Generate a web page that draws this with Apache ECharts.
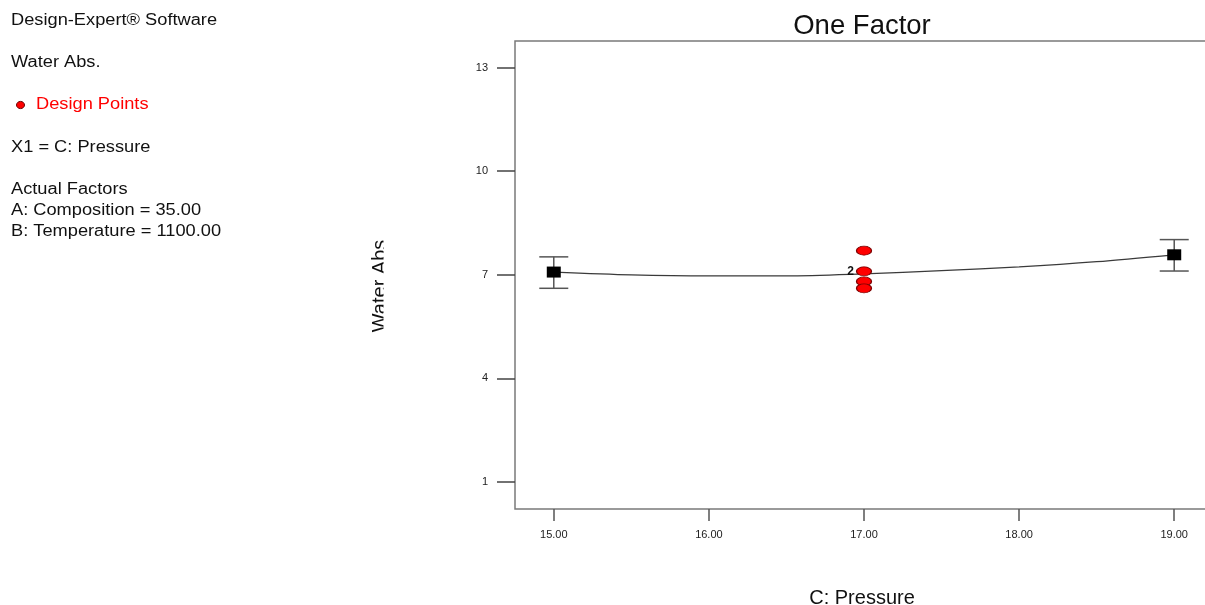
<!DOCTYPE html>
<html>
<head>
<meta charset="utf-8">
<title>One Factor</title>
<script src="https://cdn.jsdelivr.net/npm/echarts@6/dist/echarts.min.js"></script>
<style>
  html, body { margin: 0; padding: 0; background: #fff; }
  #chart { width: 1205px; height: 605px; }
</style>
</head>
<body>
<div id="chart"></div>
<script>
// Pressure levels (factor C) and their tick labels
const xTicks = [15, 16, 17, 18, 19];
const yTicks = [1, 4, 7, 10, 13];

// Predicted Water Abs. along the model curve
const curveX = [15.0, 15.5, 16.0, 16.5, 17.0, 17.5, 18.0, 18.5, 19.0];
const curveY = [7.08, 7.00, 6.97, 6.97, 7.03, 7.12, 7.23, 7.38, 7.58];

// Predictions with LSD bars at the factor extremes
const barX    = [15, 19];
const barMean = [7.08, 7.58];
const barLow  = [6.61, 7.11];
const barHigh = [7.52, 8.02];

// Design points (count > 1 means replicated runs at the same value)
const pointX     = [17, 17, 17, 17];
const pointY     = [7.70, 7.10, 6.81, 6.61];
const pointCount = [1, 2, 1, 1];

const FONT = 'Arial, "Liberation Sans", sans-serif';

const chart = echarts.init(document.getElementById('chart'), null, { renderer: 'canvas' });

// side panel text
const infoLines = [
  { text: 'Design-Expert\u00ae Software', y: 20.5, color: '#111' },
  { text: 'Water Abs.', y: 62.5, color: '#111' },
  { text: 'Design Points', y: 105, color: '#ff0000', x: 36 },
  { text: 'X1 = C: Pressure', y: 147.5, color: '#111' },
  { text: 'Actual Factors', y: 189.5, color: '#111' },
  { text: 'A: Composition = 35.00', y: 210.5, color: '#111' },
  { text: 'B: Temperature = 1100.00', y: 231.5, color: '#111' }
];

const graphics = infoLines.map(l => ({
  type: 'text',
  x: l.x || 11,
  y: l.y,
  scaleX: 1.14,
  style: {
    text: l.text,
    fill: l.color,
    font: '16px ' + FONT,
    textAlign: 'left',
    textVerticalAlign: 'middle'
  }
}));

graphics.push({
  type: 'ellipse',
  shape: { cx: 20.5, cy: 105, rx: 4, ry: 3.6 },
  style: { fill: '#ff0000', stroke: '#6a0000', lineWidth: 1 }
});

graphics.push({
  type: 'text',
  x: 862,
  y: 26,
  style: {
    text: 'One Factor',
    fill: '#111',
    font: '27.5px ' + FONT,
    textAlign: 'center',
    textVerticalAlign: 'middle'
  }
});

// vertical axis title, its lower edge trimmed by the page layout
graphics.push({
  type: 'text',
  x: 380.5,
  y: 286,
  rotation: Math.PI / 2,
  style: {
    text: 'Water Abs',
    fill: '#111',
    font: '20px ' + FONT,
    textAlign: 'center',
    textVerticalAlign: 'middle'
  },
  z: 10
});
graphics.push({
  type: 'rect',
  shape: { x: 383.5, y: 225, width: 14, height: 120 },
  style: { fill: '#ffffff' },
  z: 100
});

graphics.push({
  type: 'text',
  x: 862,
  y: 598,
  style: {
    text: 'C: Pressure',
    fill: '#111',
    font: '20px ' + FONT,
    textAlign: 'center',
    textVerticalAlign: 'middle'
  }
});

const option = {
  backgroundColor: '#fff',
  animation: false,
  grid: {
    left: 515,
    top: 41,
    width: 698,
    height: 468,
    outerBoundsMode: 'none',
    containLabel: false,
    show: true,
    borderColor: '#7a7a7a',
    borderWidth: 1.5,
    backgroundColor: 'transparent'
  },
  xAxis: {
    type: 'value',
    min: 14.75,
    max: 19.25,
    axisLine: { show: false },
    splitLine: { show: false },
    axisTick: {
      show: true,
      length: 12,
      customValues: xTicks,
      lineStyle: { color: '#555', width: 1.5 }
    },
    axisLabel: {
      customValues: xTicks,
      margin: 20,
      fontFamily: FONT,
      fontSize: 11,
      color: '#222',
      formatter: v => Number(v).toFixed(2)
    }
  },
  yAxis: {
    type: 'value',
    min: 0.22,
    max: 13.77,
    axisLine: { show: false },
    splitLine: { show: false },
    axisTick: {
      show: true,
      length: 18,
      customValues: yTicks,
      lineStyle: { color: '#444', width: 1.5 }
    },
    axisLabel: {
      customValues: yTicks,
      margin: 27,
      fontFamily: FONT,
      fontSize: 11,
      color: '#222',
      formatter: v => String(Math.round(v))
    }
  },
  graphic: graphics,
  series: [
    {
      name: 'Prediction',
      type: 'line',
      data: curveX.map((x, i) => [x, curveY[i]]),
      smooth: 0.3,
      showSymbol: false,
      lineStyle: { color: '#3a3a3a', width: 1.2 },
      z: 2,
      silent: true
    },
    {
      name: 'LSD bars',
      type: 'custom',
      data: barX.map((x, i) => [x, barLow[i], barHigh[i]]),
      renderItem: (params, api) => {
        const x = api.value(0);
        const lo = api.coord([x, api.value(1)]);
        const hi = api.coord([x, api.value(2)]);
        const hw = 14.5;
        const st = { stroke: '#555', lineWidth: 1.5 };
        return {
          type: 'group',
          children: [
            { type: 'line', shape: { x1: lo[0], y1: lo[1], x2: hi[0], y2: hi[1] }, style: st },
            { type: 'line', shape: { x1: lo[0] - hw, y1: lo[1], x2: lo[0] + hw, y2: lo[1] }, style: st },
            { type: 'line', shape: { x1: hi[0] - hw, y1: hi[1], x2: hi[0] + hw, y2: hi[1] }, style: st }
          ]
        };
      },
      z: 3,
      silent: true
    },
    {
      name: 'Prediction points',
      type: 'scatter',
      data: barX.map((x, i) => [x, barMean[i]]),
      symbol: 'rect',
      symbolSize: [14, 11],
      itemStyle: { color: '#000', opacity: 1 },
      z: 4,
      silent: true
    },
    {
      name: 'Design Points',
      type: 'scatter',
      data: pointX.map((x, i) => ({
        value: [x, pointY[i]],
        label: {
          show: pointCount[i] > 1,
          formatter: String(pointCount[i])
        }
      })),
      symbol: 'circle',
      symbolSize: [15, 9],
      itemStyle: { color: '#ff0000', borderColor: '#7a0000', borderWidth: 1, opacity: 1 },
      label: {
        position: 'left',
        distance: 2,
        fontFamily: FONT,
        fontSize: 12,
        fontWeight: 'bold',
        color: '#111'
      },
      z: 5,
      silent: true
    }
  ]
};

chart.setOption(option);
</script>
</body>
</html>
